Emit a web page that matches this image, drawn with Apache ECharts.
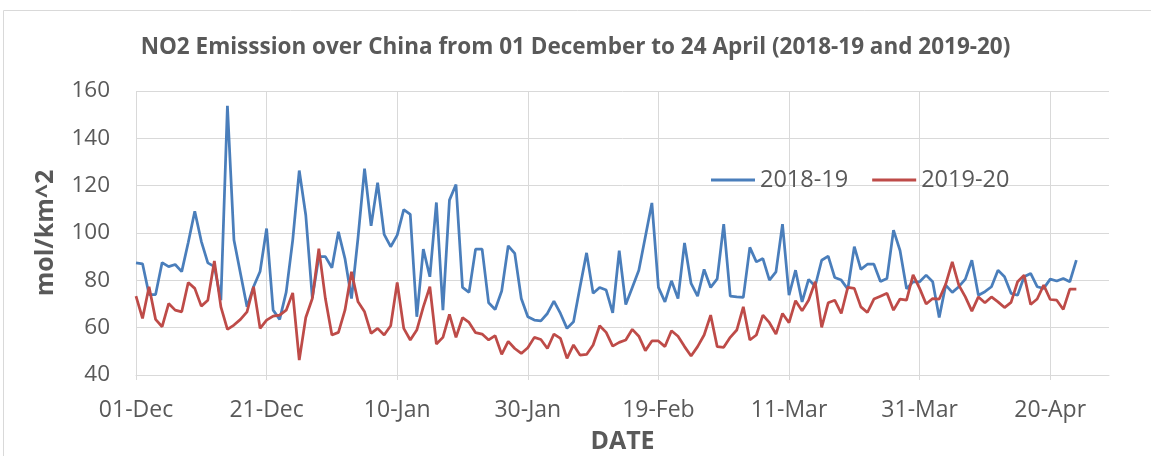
<!DOCTYPE html>
<html>
<head>
<meta charset="utf-8">
<script src="https://cdn.jsdelivr.net/npm/echarts@6/dist/echarts.min.js"></script>
<style>
html,body{margin:0;padding:0;background:#fff;}
#chart{width:1151px;height:456px;}
</style>
</head>
<body>
<div id="chart"></div>
<script>
// day index from 01-Dec (0) to 24-Apr (144)
const tickLabels = ['01-Dec','21-Dec','10-Jan','30-Jan','19-Feb','11-Mar','31-Mar','20-Apr'];
const seriesNames = ['2018-19','2019-20'];
const values2018 = [
 87.4,87,74,74,87.5,85.8,86.7,83.7,96,109.2,
 96.5,87.4,85.8,71.6,153.7,97,82.9,68.8,77.3,83.7,
 101.9,67.4,63.5,75,97,126.4,107.5,72.6,90,90,
 85.3,100.5,89.2,72.3,98,127.2,103,121.3,99.4,94.2,
 99.1,109.9,107.9,64.6,93.2,81.5,112.9,67.4,113.9,120.5,
 77,74.9,93.2,93.2,70.5,67.7,75.5,94.6,91.4,72.3,
 64.6,63.2,62.9,66,71.2,66,59.7,62.5,77.3,91.6,
 74.5,77,75.9,66.3,92.5,69.8,77,84.3,98.4,112.7,
 77,70.9,79.8,72.3,95.8,78.7,73.3,84.6,77,80.6,
 103.7,73.3,73,72.8,93.9,87.8,89.2,80.1,83.6,103.7,
 73.7,84.3,70.9,80.4,77.5,88.5,90.2,81.2,80.1,76.3,
 94.2,84.6,86.8,86.8,79.5,80.8,101.2,92.6,76.4,79.4,
 79.4,82.2,79.4,64.3,78,74.9,77.3,80.5,88.5,73.7,
 75.2,77.3,84.3,81.5,74.5,73.7,81.5,82.9,77.3,76.6,
 80.5,79.7,80.8,79.4,88.5
];
const values2019 = [
 73.3,63.9,77.3,63.5,60.4,70.2,67.4,66.7,79.1,76.6,
 69.1,71.6,88.2,68.8,59.3,61.1,63.5,66.7,77.3,59.7,
 63.2,64.9,65.3,67.4,74.7,46.3,64.3,72.3,93.4,72.3,
 56.9,58,67.4,83.6,70.9,66.7,57.6,59.7,56.9,60.8,
 79.1,59.7,54.8,59,68.8,77.3,53.1,55.9,65.6,55.9,
 64.2,62.2,57.9,57.3,54.8,56.6,48.7,54.2,51.2,49.1,
 51.5,55.9,55,51.2,57.3,55.5,47,52.7,48.4,48.7,
 52.7,60.8,58,52.2,53.8,54.8,59.3,56.4,50.3,54.4,
 54.4,52,58.7,56.4,52,48,52,56.9,65.3,52,
 51.7,55.9,59,68.8,54.8,56.9,65.3,62.1,57.3,66,
 62.1,71.4,67.1,71.6,79.4,60.1,70.5,71.6,66,77,
 76.6,68.8,66.4,72.1,73.3,74.5,67.4,72.1,71.6,82.3,
 76.6,70,72.3,72.1,78.4,87.8,78,73,67,73,
 70.5,73,70.9,68.5,70.7,79.4,82.2,69.8,72.1,78,
 71.9,71.6,67.7,76.3,76.3
];
const colors = ['#4a7ebb','#be4b48'];

const toPairs = arr => arr.map((v,i)=>[i,v]);
const FONT = 'Open Sans';
const chart = echarts.init(document.getElementById('chart'));
chart.setOption({
  animation:false,
  textStyle:{fontFamily:FONT},
  title:{
    text:'NO2 Emisssion over China from 01 December to 24 April (2018-19 and 2019-20)',
    left:'center', top:31,
    textStyle:{fontSize:22.5,fontWeight:'bold',color:'#595959',fontFamily:FONT}
  },
  legend:{
    data:seriesNames, left:706, top:163, itemWidth:44, itemHeight:3, itemGap:24,
    icon:'rect',
    textStyle:{fontSize:23.5,color:'#595959',fontFamily:FONT}
  },
  grid:{left:136,right:42,top:91,bottom:81,containLabel:false,outerBoundsMode:'none'},
  xAxis:{
    type:'value', min:0, max:149, interval:20,
    name:'DATE', nameLocation:'middle', nameGap:54,
    nameTextStyle:{fontSize:25,fontWeight:'bold',color:'#595959',fontFamily:FONT},
    axisLine:{show:true,lineStyle:{color:'#d9d9d9',width:1}},
    axisTick:{show:true,length:5,lineStyle:{color:'#d9d9d9'}},
    axisLabel:{fontSize:23,color:'#595959',margin:24,fontFamily:FONT,showMaxLabel:false,
      formatter:v=> (v%20===0 && tickLabels[v/20]) ? tickLabels[v/20] : ''},
    splitLine:{show:true,showMaxLine:false,lineStyle:{color:'#d9d9d9',width:1}}
  },
  yAxis:{
    type:'value', min:40, max:160, interval:20,
    name:'mol/km^2', nameLocation:'middle', nameGap:78, nameRotate:90,
    nameTextStyle:{fontSize:25,fontWeight:'bold',color:'#595959',fontFamily:FONT},
    axisLine:{show:false}, axisTick:{show:false},
    axisLabel:{fontSize:22.5,color:'#595959',margin:26,fontFamily:FONT},
    splitLine:{show:true,lineStyle:{color:'#d9d9d9',width:1}}
  },
  graphic:[{type:'rect',shape:{x:3.5,y:10.5,width:1200,height:500},
    style:{fill:'none',stroke:'#d9d9d9',lineWidth:1},silent:true,z:-1}],
  series:[
    {name:seriesNames[0],type:'line',data:toPairs(values2018),showSymbol:false,
     lineStyle:{color:colors[0],width:2.75},itemStyle:{color:colors[0]}},
    {name:seriesNames[1],type:'line',data:toPairs(values2019),showSymbol:false,
     lineStyle:{color:colors[1],width:2.75},itemStyle:{color:colors[1]}}
  ]
});
</script>
</body>
</html>
